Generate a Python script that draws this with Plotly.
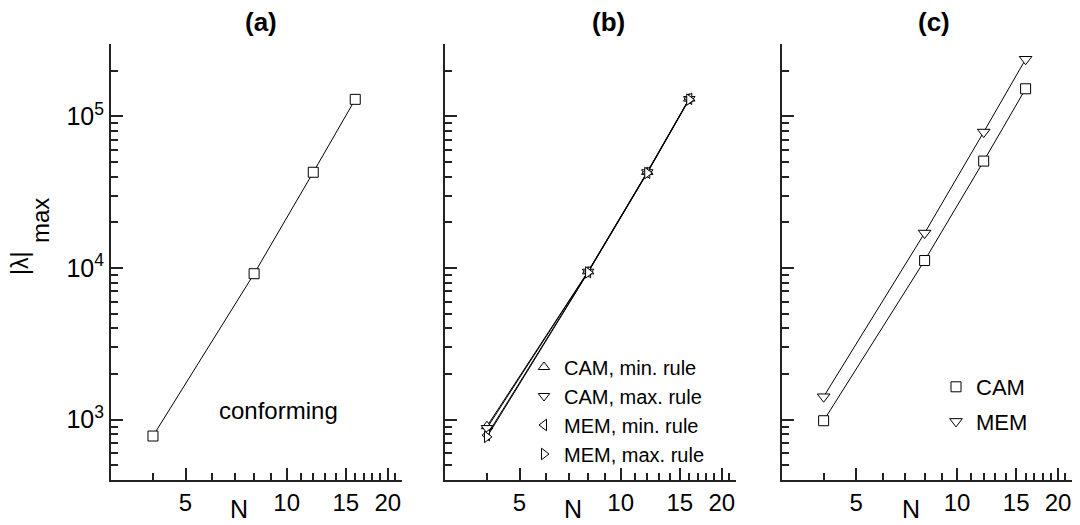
import math
import plotly.graph_objects as go

# ---------------- data ----------------
N = [4, 8, 12, 16]
a_conforming = [780, 9170, 42800, 129500]

b_cam_min = [905, 9500, 43000, 131000]
b_cam_max = [880, 9450, 42800, 130000]
b_mem_min = [790, 9400, 42500, 130500]
b_mem_max = [770, 9350, 42300, 129000]

c_cam = [984, 11200, 50700, 152000]
c_mem = [1416, 17000, 78800, 238000]

x_major = [5, 10, 15, 20]
x_major_text = ["5", "10", "15", "20"]
x_minor = [3, 4, 6, 7, 8, 9, 11, 12, 13, 14, 16, 17, 18, 19, 21, 22]
y_major = [1e3, 1e4, 1e5]
y_major_text = ["10<sup>3</sup>", "10<sup>4</sup>", "10<sup>5</sup>"]
y_minor = [400, 500, 600, 700, 800, 900,
           2000, 3000, 4000, 5000, 6000, 7000, 8000, 9000,
           20000, 30000, 40000, 50000, 60000, 70000, 80000, 90000,
           200000, 300000]

# ---------------- layout helpers ----------------
W, H = 1080, 525
FONT = "Liberation Sans, Arial, sans-serif"
AX = "#222222"


def fx(p):
    return p / W


def fy(p):
    return 1 - p / H


xdom = [(111, 401.7), (445, 735.7), (781.7, 1072)]
ytop, ybot = 44, 480

fig = go.Figure()


def add(xa, ya, y, name, symbol, size, legend=None, show=True, group=None):
    # connecting line (not in legend)
    fig.add_trace(go.Scatter(
        x=N, y=y, mode="lines", xaxis=xa, yaxis=ya,
        line=dict(color="black", width=1), showlegend=False,
        hoverinfo="skip",
    ))
    # open markers (legend entry shows the symbol only)
    fig.add_trace(go.Scatter(
        x=N, y=y, mode="markers", name=name,
        xaxis=xa, yaxis=ya,
        marker=dict(symbol=symbol, size=size, color="white",
                    line=dict(color="black", width=1)),
        showlegend=show, legend=legend, legendgroup=group,
    ))


add("x", "y", a_conforming, "conforming", "square", 10, show=False)

add("x2", "y2", b_cam_min, "CAM, min. rule", "triangle-up", 10, legend="legend")
add("x2", "y2", b_cam_max, "CAM, max. rule", "triangle-down", 10, legend="legend")
add("x2", "y2", b_mem_min, "MEM, min. rule", "triangle-left", 10, legend="legend")
add("x2", "y2", b_mem_max, "MEM, max. rule", "triangle-right", 10, legend="legend")

add("x3", "y3", c_cam, "CAM", "square", 10, legend="legend2", group="g1")
add("x3", "y3", c_mem, "MEM", "triangle-down", 11, legend="legend2", group="g2")


def xaxis(i):
    return dict(
        type="log", range=[math.log10(3), math.log10(22)],
        domain=[fx(xdom[i][0]), fx(xdom[i][1])],
        anchor="y" if i == 0 else f"y{i+1}",
        showline=True, linecolor=AX, linewidth=2,
        ticks="inside", ticklen=12, tickwidth=1.5, tickcolor=AX,
        tickmode="array", tickvals=x_major, ticktext=x_major_text,
        tickfont=dict(family=FONT, size=24, color="black"),
        ticklabelstandoff=0,
        showgrid=False, zeroline=False, fixedrange=True,
        minor=dict(tickmode="array", tickvals=x_minor, ticks="inside",
                   ticklen=7, tickwidth=1.5, tickcolor=AX, showgrid=False),
    )


def yaxis(i):
    return dict(
        type="log", range=[math.log10(400), math.log10(3e5)],
        domain=[fy(ybot), fy(ytop)],
        anchor="x" if i == 0 else f"x{i+1}",
        showline=True, linecolor=AX, linewidth=2,
        ticks="inside", ticklen=12, tickwidth=1.5, tickcolor=AX,
        tickmode="array", tickvals=y_major, ticktext=y_major_text,
        showticklabels=(i == 0),
        tickfont=dict(family=FONT, size=25, color="black"),
        showgrid=False, zeroline=False, fixedrange=True,
        minor=dict(tickmode="array", tickvals=y_minor, ticks="inside",
                   ticklen=7, tickwidth=1.5, tickcolor=AX, showgrid=False),
    )


annotations = []


def ann(text, x, y, size=24, bold=False, angle=0, yanchor="middle"):
    annotations.append(dict(
        text=f"<b>{text}</b>" if bold else text,
        x=fx(x), y=fy(y), xref="paper", yref="paper",
        xanchor="center", yanchor=yanchor, showarrow=False,
        textangle=angle, font=dict(family=FONT, size=size, color="black"),
    ))


ann("(a)", 260.8, 22.5, 26, bold=True)
ann("(b)", 608.3, 22.5, 26, bold=True)
ann("(c)", 933.7, 22.5, 26, bold=True)
ann("N", 239, 525, 25, yanchor="bottom")
ann("N", 572.5, 525, 25, yanchor="bottom")
ann("N", 911, 525, 25, yanchor="bottom")
ann("conforming", 278, 410, 24)
ann("|λ|", 20, 264, 23, angle=-90)
ann("max", 40, 221, 24, angle=-90)

fig.update_layout(
    width=W, height=H,
    margin=dict(l=0, r=0, t=0, b=0),
    paper_bgcolor="white", plot_bgcolor="white",
    xaxis=xaxis(0), xaxis2=xaxis(1), xaxis3=xaxis(2),
    yaxis=yaxis(0), yaxis2=yaxis(1), yaxis3=yaxis(2),
    annotations=annotations,
    legend=dict(x=fx(524), y=fy(347.5), xanchor="left", yanchor="top",
                bgcolor="rgba(0,0,0,0)", borderwidth=0,
                font=dict(family=FONT, size=20, color="black")),
    legend2=dict(x=fx(936), y=fy(366), xanchor="left", yanchor="top",
                 bgcolor="rgba(0,0,0,0)", borderwidth=0, tracegroupgap=3,
                 font=dict(family=FONT, size=22, color="black")),
)

fig.write_html("out.html")
